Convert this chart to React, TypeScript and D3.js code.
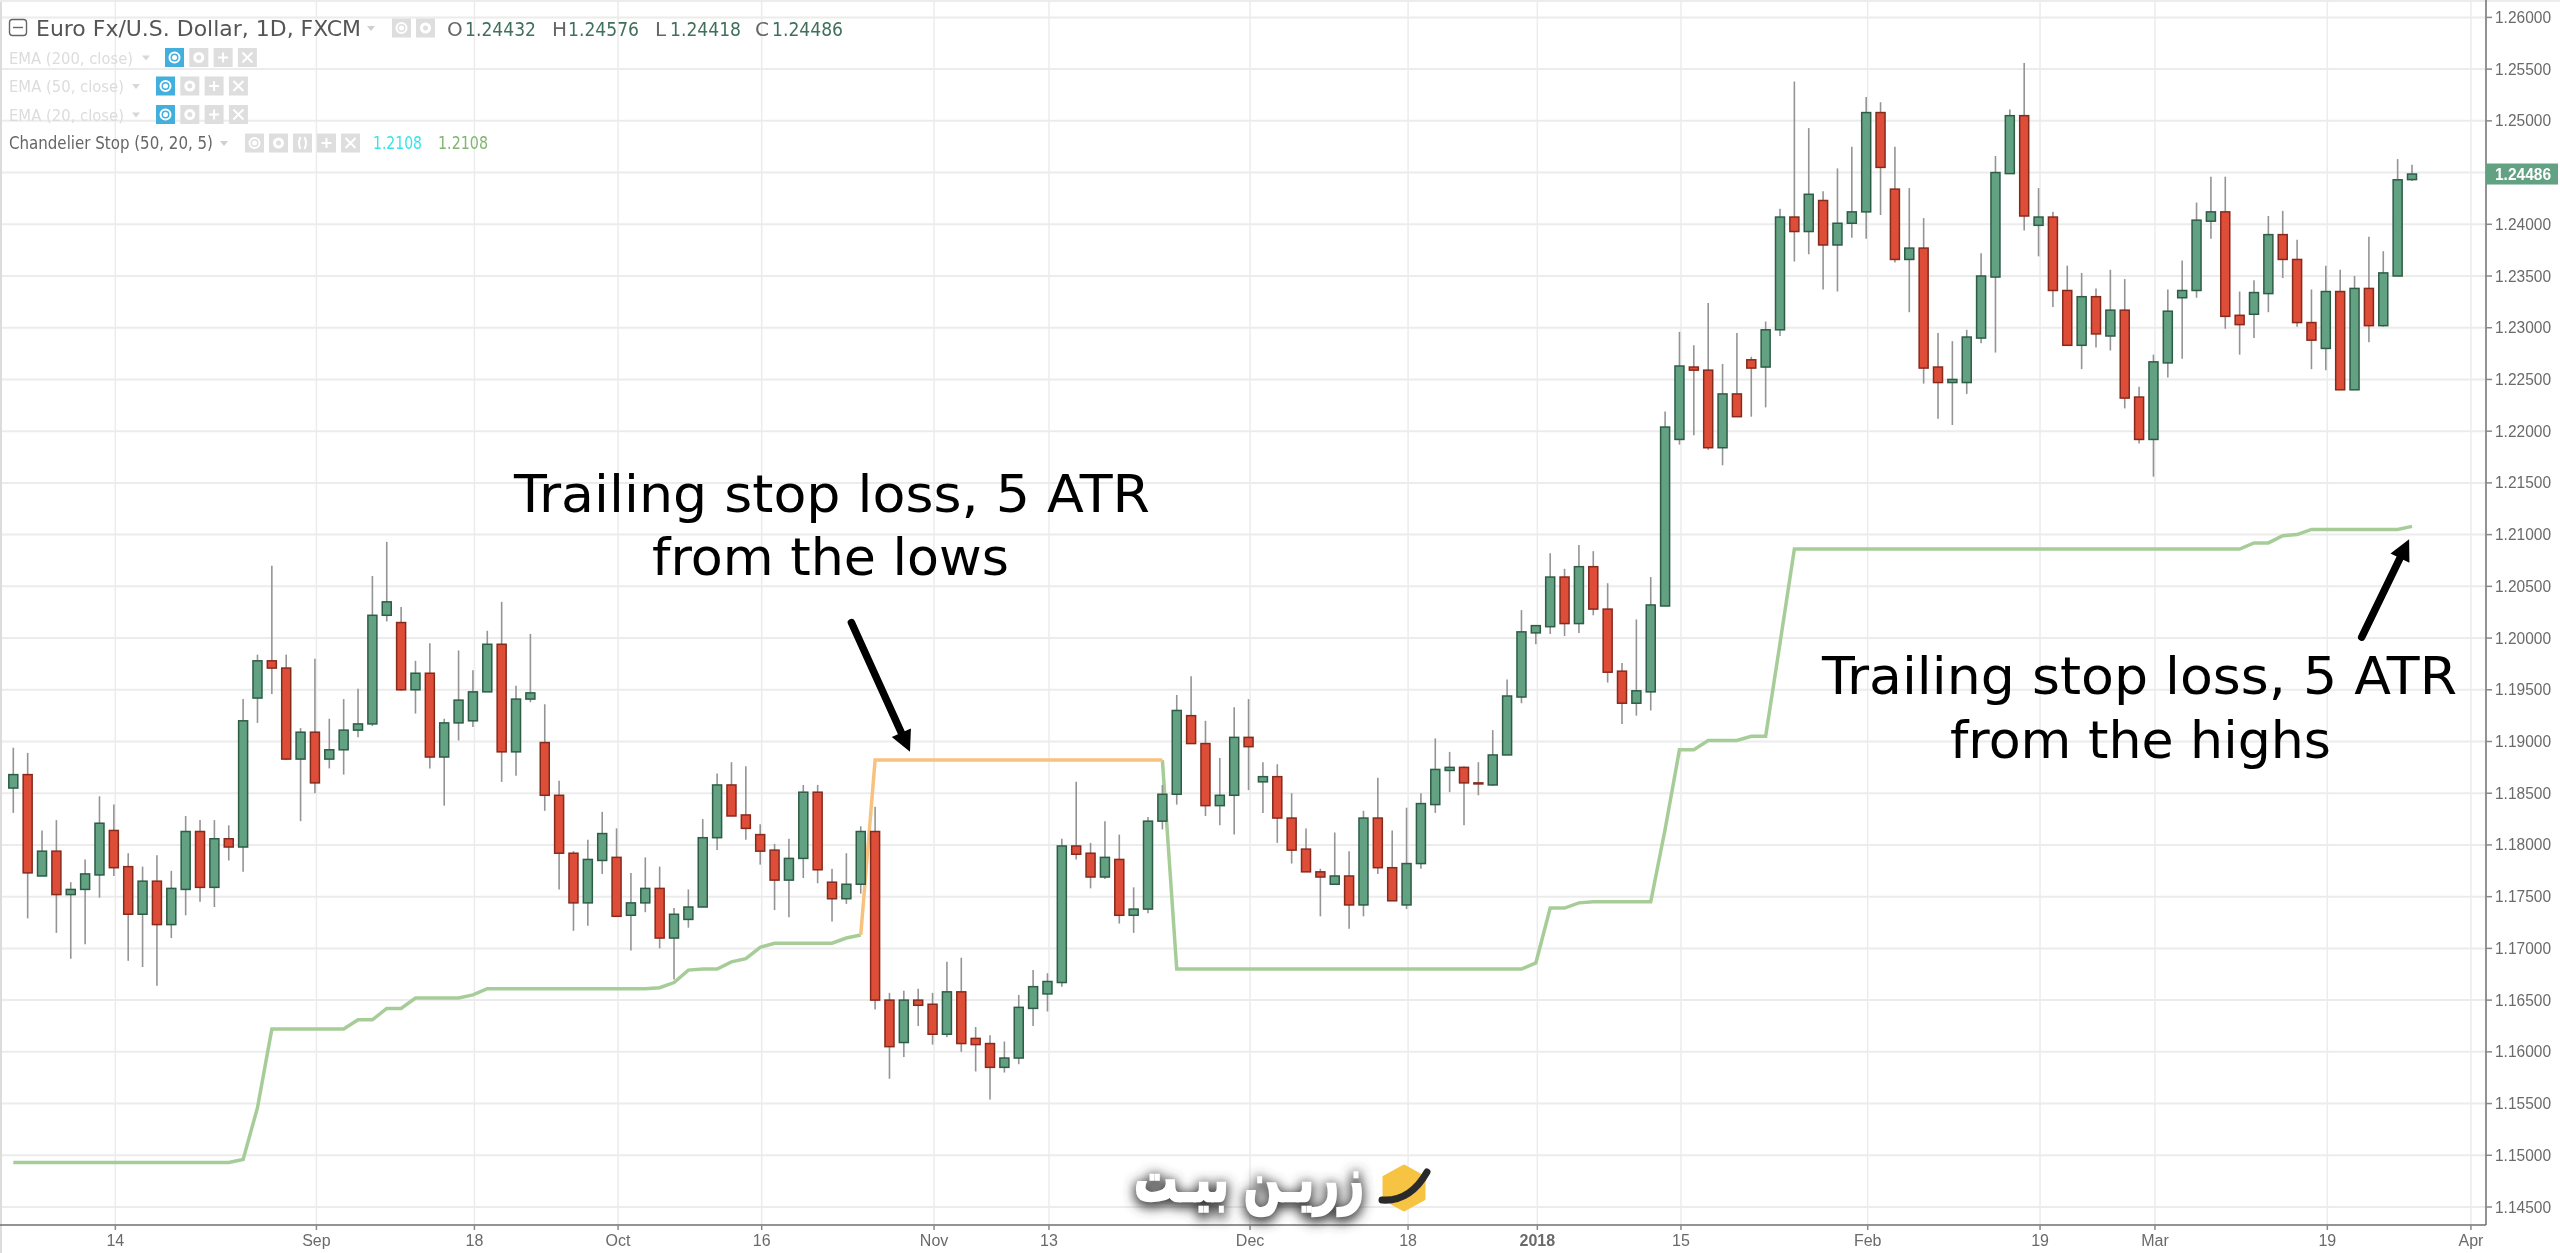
import { line, range, scaleLinear, select } from 'd3';
import React, { useEffect, useRef } from 'react';

const WIDTH = 2560;
const HEIGHT = 1253;
const AXIS_X = 2486;
const AXIS_Y = 1225;

const GREEN = '#62a182';
const GREEN_EDGE = '#2e5c47';
const RED = '#dd4e38';
const RED_EDGE = '#862a1e';
const WICK = '#949494';
const STOP_GREEN = '#a6cd97';
const STOP_ORANGE = '#f8c27e';
const GRID = '#ececec';
const TEXT = '#6a6a6a';
const ICON = '#dedede';

const opens = [
  1.1855, 1.1868, 1.177, 1.1794, 1.1752, 1.1757, 1.1771, 1.1814, 1.1779, 1.1733, 1.1765, 1.1723,
  1.1757, 1.1813, 1.1759, 1.1806, 1.1798, 1.1942, 1.1978, 1.1971, 1.1883, 1.1909, 1.1883, 1.1892,
  1.1911, 1.1917, 1.2022, 1.2015, 1.195, 1.1966, 1.1885, 1.1918, 1.192, 1.1948, 1.1994, 1.189,
  1.1941, 1.1899, 1.1848, 1.1792, 1.1744, 1.1785, 1.1788, 1.1732, 1.1744, 1.1758, 1.171, 1.1728,
  1.174, 1.1807, 1.1858, 1.1829, 1.181, 1.1795, 1.1766, 1.1787, 1.1851, 1.1764, 1.1748, 1.1762,
  1.1813, 1.165, 1.1609, 1.165, 1.1646, 1.1617, 1.1658, 1.1613, 1.1608, 1.1585, 1.1594, 1.1642,
  1.1656, 1.1667, 1.1799, 1.1792, 1.1769, 1.1786, 1.1732, 1.1738, 1.1823, 1.1849, 1.1925, 1.1898,
  1.1838, 1.1848, 1.1904, 1.1861, 1.1866, 1.1826, 1.1796, 1.1774, 1.1762, 1.177, 1.1742, 1.1826,
  1.1778, 1.1742, 1.1782, 1.1839, 1.1872, 1.1875, 1.186, 1.1858, 1.1887, 1.1943, 1.2005, 1.2011,
  1.2059, 1.2014, 1.2069, 1.2028, 1.1968, 1.1937, 1.1948, 1.2031, 1.2192, 1.2262, 1.2259, 1.2184,
  1.2236, 1.2269, 1.2262, 1.2298, 1.2407, 1.2393, 1.2423, 1.238, 1.2401, 1.2412, 1.2508, 1.2434,
  1.2366, 1.2377, 1.2262, 1.2247, 1.2247, 1.229, 1.2349, 1.2449, 1.2505, 1.2399, 1.2407, 1.2336,
  1.2283, 1.233, 1.2292, 1.2317, 1.2233, 1.2192, 1.2266, 1.2329, 1.2336, 1.2403, 1.2412, 1.2312,
  1.2313, 1.2333, 1.239, 1.2366, 1.2305, 1.228, 1.2335, 1.224, 1.2338, 1.2302, 1.235, 1.24432,
];
const closes = [
  1.1868, 1.1773, 1.1794, 1.1752, 1.1757, 1.1772, 1.1821, 1.1778, 1.1733, 1.1765, 1.1723, 1.1758,
  1.1813, 1.1759, 1.1806, 1.1798, 1.192, 1.1978, 1.1971, 1.1883, 1.1909, 1.186, 1.1892, 1.1911,
  1.1917, 1.2022, 1.2035, 1.195, 1.1966, 1.1885, 1.1918, 1.194, 1.1948, 1.1994, 1.189, 1.1941,
  1.1947, 1.1848, 1.1792, 1.1744, 1.1786, 1.1811, 1.1731, 1.1744, 1.1758, 1.171, 1.1733, 1.174,
  1.1807, 1.1858, 1.1828, 1.1816, 1.1794, 1.1766, 1.1787, 1.1851, 1.1776, 1.1748, 1.1762, 1.1813,
  1.165, 1.1605, 1.165, 1.1645, 1.1617, 1.1658, 1.1608, 1.1607, 1.1585, 1.1594, 1.1643, 1.1663,
  1.1668, 1.1799, 1.1791, 1.1769, 1.1788, 1.1732, 1.1738, 1.1823, 1.1849, 1.193, 1.1898, 1.1838,
  1.1848, 1.1904, 1.1895, 1.1866, 1.1826, 1.1795, 1.1774, 1.1769, 1.177, 1.1742, 1.1826, 1.1778,
  1.1746, 1.1782, 1.184, 1.1873, 1.1875, 1.186, 1.1859, 1.1887, 1.1944, 1.2006, 1.2012, 1.2059,
  1.2014, 1.2069, 1.2028, 1.1967, 1.1937, 1.1949, 1.2032, 1.2204, 1.2263, 1.2259, 1.2184, 1.2236,
  1.2214, 1.2261, 1.2298, 1.2407, 1.2393, 1.2429, 1.238, 1.2401, 1.2412, 1.2508, 1.2455, 1.2366,
  1.2377, 1.2261, 1.2247, 1.225, 1.2291, 1.235, 1.245, 1.2505, 1.2408, 1.2407, 1.2336, 1.2283,
  1.233, 1.2294, 1.2317, 1.2232, 1.2192, 1.2267, 1.2316, 1.2336, 1.2404, 1.2412, 1.2311, 1.2303,
  1.2334, 1.239, 1.2366, 1.2305, 1.2288, 1.2335, 1.224, 1.2338, 1.2302, 1.2353, 1.2443, 1.24486,
];
const highs = [
  1.1894, 1.1889, 1.1814, 1.1824, 1.1764, 1.1786, 1.1847, 1.1839, 1.1792, 1.1779, 1.179, 1.1775,
  1.1828, 1.1824, 1.1824, 1.1819, 1.1941, 1.1984, 1.207, 1.1984, 1.1913, 1.198, 1.1922, 1.1941,
  1.1951, 1.206, 1.2093, 1.203, 1.1978, 1.1995, 1.1922, 1.1988, 1.1969, 1.2007, 1.2035, 1.1954,
  1.2004, 1.1936, 1.1862, 1.1794, 1.1805, 1.1832, 1.1816, 1.1773, 1.1788, 1.1779, 1.1739, 1.1757,
  1.1825, 1.1869, 1.188, 1.1876, 1.182, 1.1801, 1.1806, 1.1858, 1.1858, 1.1777, 1.1792, 1.1818,
  1.1837, 1.1657, 1.1659, 1.1661, 1.1657, 1.1687, 1.1691, 1.1624, 1.1616, 1.161, 1.1655, 1.1679,
  1.1676, 1.1806, 1.1861, 1.1802, 1.1823, 1.181, 1.1759, 1.1827, 1.1858, 1.1945, 1.1963, 1.192,
  1.1884, 1.1933, 1.1941, 1.188, 1.1878, 1.185, 1.1816, 1.1777, 1.1812, 1.1794, 1.1833, 1.1865,
  1.1814, 1.1836, 1.185, 1.1903, 1.189, 1.1876, 1.188, 1.1911, 1.196, 1.2027, 1.2012, 1.2082,
  1.2067, 1.209, 1.2084, 1.2053, 1.1976, 1.2018, 1.2059, 1.2219, 1.2296, 1.2283, 1.2324, 1.2265,
  1.2295, 1.2272, 1.2306, 1.2415, 1.2538, 1.2493, 1.2432, 1.2454, 1.2475, 1.2523, 1.2518, 1.2475,
  1.2435, 1.2406, 1.2295, 1.2287, 1.2298, 1.2372, 1.2466, 1.2511, 1.2556, 1.2435, 1.2412, 1.236,
  1.2353, 1.2338, 1.2356, 1.2347, 1.2243, 1.2274, 1.2337, 1.2365, 1.2421, 1.2446, 1.2446, 1.2335,
  1.2346, 1.2408, 1.2413, 1.2385, 1.2337, 1.236, 1.2356, 1.235, 1.2388, 1.2374, 1.2463, 1.24576,
];
const lows = [
  1.1831, 1.1729, 1.177, 1.1715, 1.169, 1.1704, 1.1749, 1.177, 1.1688, 1.1682, 1.1664, 1.171,
  1.1732, 1.1745, 1.174, 1.1785, 1.1774, 1.1918, 1.1946, 1.1882, 1.1823, 1.185, 1.1874, 1.1868,
  1.1904, 1.1915, 1.2016, 1.1949, 1.1927, 1.1874, 1.1838, 1.1901, 1.1914, 1.1948, 1.1861, 1.1867,
  1.1938, 1.1833, 1.1757, 1.1717, 1.1722, 1.1772, 1.1731, 1.1698, 1.1735, 1.17, 1.167, 1.172,
  1.174, 1.1795, 1.1828, 1.1805, 1.1781, 1.1737, 1.173, 1.1768, 1.1763, 1.1726, 1.1743, 1.1753,
  1.1641, 1.1574, 1.1595, 1.1625, 1.1607, 1.1614, 1.16, 1.1581, 1.1554, 1.158, 1.1588, 1.1625,
  1.1639, 1.1663, 1.1786, 1.1758, 1.1767, 1.1724, 1.1715, 1.1734, 1.1815, 1.1839, 1.1898, 1.1828,
  1.1819, 1.181, 1.1853, 1.1831, 1.1802, 1.1782, 1.1774, 1.1731, 1.1762, 1.1719, 1.1731, 1.1772,
  1.1746, 1.1738, 1.1777, 1.1831, 1.1851, 1.1819, 1.1848, 1.1857, 1.1887, 1.1937, 1.1994, 1.2004,
  1.2002, 1.2005, 1.2022, 1.1957, 1.1917, 1.1925, 1.193, 1.2031, 1.2187, 1.2196, 1.2182, 1.2167,
  1.2214, 1.2214, 1.2223, 1.2292, 1.2364, 1.2371, 1.2337, 1.2335, 1.2387, 1.2386, 1.2409, 1.2363,
  1.2315, 1.2246, 1.2212, 1.2206, 1.2236, 1.2285, 1.2276, 1.2449, 1.2394, 1.2369, 1.232, 1.2283,
  1.226, 1.2281, 1.2278, 1.2222, 1.2188, 1.2156, 1.2252, 1.227, 1.2329, 1.2386, 1.2299, 1.2274,
  1.229, 1.2315, 1.2348, 1.2301, 1.226, 1.2259, 1.224, 1.224, 1.2286, 1.2301, 1.235, 1.24418,
];

// Chandelier stop: green while long, orange while short (null where the other one is active)
const longStop = [
  1.1493, 1.1493, 1.1493, 1.1493, 1.1493, 1.1493, 1.1493, 1.1493, 1.1493, 1.1493, 1.1493, 1.1493,
  1.1493, 1.1493, 1.1493, 1.1493, 1.1496, 1.1546, 1.1622, 1.1622, 1.1622, 1.1622, 1.1622, 1.1622,
  1.1631, 1.1631, 1.1642, 1.1642, 1.1652, 1.1652, 1.1652, 1.1652, 1.1655, 1.1661, 1.1661, 1.1661,
  1.1661, 1.1661, 1.1661, 1.1661, 1.1661, 1.1661, 1.1661, 1.1661, 1.1661, 1.1662, 1.1667, 1.1679,
  1.168, 1.168, 1.1687, 1.169, 1.1701, 1.1705, 1.1705, 1.1705, 1.1705, 1.1705, 1.171, 1.1713,
  null, null, null, null, null, null, null, null, null, null, null, null,
  null, null, null, null, null, null, null, null, 1.1882, 1.168, 1.168, 1.168,
  1.168, 1.168, 1.168, 1.168, 1.168, 1.168, 1.168, 1.168, 1.168, 1.168, 1.168, 1.168,
  1.168, 1.168, 1.168, 1.168, 1.168, 1.168, 1.168, 1.168, 1.168, 1.168, 1.1686, 1.1739,
  1.1739, 1.1744, 1.1745, 1.1745, 1.1745, 1.1745, 1.1745, 1.1815, 1.1892, 1.1892, 1.1901, 1.1901,
  1.1901, 1.1905, 1.1905, 1.1995, 1.2086, 1.2086, 1.2086, 1.2086, 1.2086, 1.2086, 1.2086, 1.2086,
  1.2086, 1.2086, 1.2086, 1.2086, 1.2086, 1.2086, 1.2086, 1.2086, 1.2086, 1.2086, 1.2086, 1.2086,
  1.2086, 1.2086, 1.2086, 1.2086, 1.2086, 1.2086, 1.2086, 1.2086, 1.2086, 1.2086, 1.2086, 1.2086,
  1.2092, 1.2092, 1.2099, 1.21, 1.2105, 1.2105, 1.2105, 1.2105, 1.2105, 1.2105, 1.2105, 1.2108,
];
const shortStop = [
  null, null, null, null, null, null, null, null, null, null, null, null,
  null, null, null, null, null, null, null, null, null, null, null, null,
  null, null, null, null, null, null, null, null, null, null, null, null,
  null, null, null, null, null, null, null, null, null, null, null, null,
  null, null, null, null, null, null, null, null, null, null, null, 1.1713,
  1.1882, 1.1882, 1.1882, 1.1882, 1.1882, 1.1882, 1.1882, 1.1882, 1.1882, 1.1882, 1.1882, 1.1882,
  1.1882, 1.1882, 1.1882, 1.1882, 1.1882, 1.1882, 1.1882, 1.1882, 1.1882,
];
const stopLabel = '1.2108';

const priceTicks = [
  1.145, 1.15, 1.155, 1.16, 1.165, 1.17, 1.175, 1.18, 1.185, 1.19, 1.195, 1.2, 1.205, 1.21, 1.215,
  1.22, 1.225, 1.23, 1.235, 1.24, 1.245, 1.25, 1.255, 1.26,
];
const dateTickBars = [7, 21, 32, 42, 52, 64, 72, 86, 97, 106, 116, 129, 141, 149, 161, 171];
const dateTickLabels = ['14', 'Sep', '18', 'Oct', '16', 'Nov', '13', 'Dec', '18', '2018', '15', 'Feb', '19', 'Mar', '19', 'Apr'];

const ohlcLabels = ['O', 'H', 'L', 'C'];
const ohlcValues = ['1.24432', '1.24576', '1.24418', '1.24486'];
const ohlcLetterX = [447, 552, 655, 755];
const ohlcValueX = [465, 568, 670, 772];

const emaNames = ['EMA (200, close)', 'EMA (50, close)', 'EMA (20, close)'];

const App = (): JSX.Element => {
  const ref = useRef<SVGSVGElement>(null);

  useEffect(() => {
    if (ref.current === null) return;

    // Clear the current SVG before re-drawing
    ref.current.replaceChildren();

    const x = scaleLinear().domain([0, 167]).range([13.3, 2412]);
    const y = scaleLinear().domain([1.145, 1.26]).range([1207, 17.4]);

    const page = select(ref.current).attr('width', WIDTH).attr('height', HEIGHT).attr('viewBox', [0, 0, WIDTH, HEIGHT]);

    const defs = page.append('defs');
    defs
      .append('filter')
      .attr('id', 'soft')
      .attr('x', '-15%')
      .attr('y', '-50%')
      .attr('width', '130%')
      .attr('height', '200%')
      .append('feGaussianBlur')
      .attr('stdDeviation', 6);
    // The source is a video frame, everything in it is a little soft
    defs
      .append('filter')
      .attr('id', 'frame')
      .attr('filterUnits', 'userSpaceOnUse')
      .attr('x', 0)
      .attr('y', 0)
      .attr('width', WIDTH)
      .attr('height', HEIGHT)
      .append('feGaussianBlur')
      .attr('stdDeviation', 0.5);

    const svg = page.append('g').attr('filter', 'url(#frame)');
    svg.append('rect').attr('width', WIDTH).attr('height', HEIGHT).attr('fill', '#fff');

    // Grid
    const grid = svg.append('g').attr('stroke', GRID);
    grid
      .selectAll('line.h')
      .data(priceTicks)
      .join('line')
      .attr('class', 'h')
      .attr('x1', 0)
      .attr('x2', AXIS_X)
      .attr('y1', (d) => y(d))
      .attr('y2', (d) => y(d))
      .attr('stroke-width', 2);
    grid
      .selectAll('line.v')
      .data(dateTickBars)
      .join('line')
      .attr('class', 'v')
      .attr('x1', (d) => x(d) + 1.5)
      .attr('x2', (d) => x(d) + 1.5)
      .attr('y1', 0)
      .attr('y2', AXIS_Y)
      .attr('stroke-width', 1.5);
    svg.append('line').attr('x1', 1).attr('x2', 1).attr('y1', 0).attr('y2', HEIGHT).attr('stroke', '#dcdcdc').attr('stroke-width', 2);
    svg.append('line').attr('x1', 0).attr('x2', WIDTH).attr('y1', 1).attr('y2', 1).attr('stroke', GRID).attr('stroke-width', 2);

    // Stop lines sit under the candles
    const stopLine = line<number | null>()
      .defined((d) => d !== null)
      .x((_, i) => x(i))
      .y((d) => y(d as number));
    svg
      .append('path')
      .attr('d', stopLine(longStop))
      .attr('fill', 'none')
      .attr('stroke', STOP_GREEN)
      .attr('stroke-width', 3.5);
    svg
      .append('path')
      .attr('d', stopLine(shortStop))
      .attr('fill', 'none')
      .attr('stroke', STOP_ORANGE)
      .attr('stroke-width', 3.5);

    // Candles
    const bars = range(opens.length);
    svg
      .append('g')
      .attr('stroke', WICK)
      .attr('stroke-width', 1.6)
      .selectAll()
      .data(bars)
      .join('line')
      .attr('x1', (i) => x(i))
      .attr('x2', (i) => x(i))
      .attr('y1', (i) => y(highs[i]))
      .attr('y2', (i) => y(lows[i]));
    svg
      .append('g')
      .attr('stroke-width', 1.5)
      .selectAll()
      .data(bars)
      .join('rect')
      .attr('x', (i) => x(i) - 4.5)
      .attr('width', 9)
      .attr('y', (i) => y(Math.max(opens[i], closes[i])))
      .attr('height', (i) => Math.abs(y(opens[i]) - y(closes[i])))
      .attr('fill', (i) => (closes[i] >= opens[i] ? GREEN : RED))
      .attr('stroke', (i) => (closes[i] >= opens[i] ? GREEN_EDGE : RED_EDGE));

    // Price axis
    const priceAxis = svg.append('g');
    priceAxis.append('line').attr('x1', AXIS_X).attr('x2', AXIS_X).attr('y1', 0).attr('y2', AXIS_Y).attr('stroke', '#6f6f6f').attr('stroke-width', 1.5);
    priceAxis
      .selectAll('line.tick')
      .data(priceTicks)
      .join('line')
      .attr('class', 'tick')
      .attr('x1', AXIS_X)
      .attr('x2', AXIS_X + 6)
      .attr('y1', (d) => y(d))
      .attr('y2', (d) => y(d))
      .attr('stroke', '#8a8a8a')
      .attr('stroke-width', 1.5);
    priceAxis
      .selectAll('text')
      .data(priceTicks)
      .join('text')
      .attr('x', 2495)
      .attr('y', (d) => y(d) + 5.5)
      .attr('textLength', 56)
      .attr('lengthAdjust', 'spacingAndGlyphs')
      .attr('font-family', 'Liberation Sans')
      .attr('font-size', 16)
      .attr('fill', TEXT)
      .text((d) => d.toFixed(5));
    const last = closes[closes.length - 1];
    priceAxis.append('rect').attr('x', AXIS_X).attr('y', y(last) - 10.5).attr('width', 72).attr('height', 21).attr('fill', GREEN);
    priceAxis
      .append('text')
      .attr('x', 2495)
      .attr('y', y(last) + 5.5)
      .attr('textLength', 56)
      .attr('lengthAdjust', 'spacingAndGlyphs')
      .attr('font-family', 'Liberation Sans')
      .attr('font-size', 16)
      .attr('font-weight', 'bold')
      .attr('fill', '#fff')
      .text(last.toFixed(5));

    // Date axis
    const dateAxis = svg.append('g');
    dateAxis.append('line').attr('x1', 0).attr('x2', AXIS_X).attr('y1', AXIS_Y).attr('y2', AXIS_Y).attr('stroke', '#6f6f6f').attr('stroke-width', 1.5);
    dateAxis
      .selectAll('line.tick')
      .data(dateTickBars)
      .join('line')
      .attr('class', 'tick')
      .attr('x1', (d) => x(d) + 1.5)
      .attr('x2', (d) => x(d) + 1.5)
      .attr('y1', AXIS_Y)
      .attr('y2', AXIS_Y + 5)
      .attr('stroke', '#8a8a8a')
      .attr('stroke-width', 1.5);
    dateAxis
      .selectAll('text')
      .data(dateTickBars)
      .join('text')
      .attr('x', (d) => x(d) + 1.5)
      .attr('y', AXIS_Y + 21)
      .attr('text-anchor', 'middle')
      .attr('font-family', 'Liberation Sans')
      .attr('font-size', 16)
      .attr('font-weight', (_, i) => (dateTickLabels[i] === '2018' ? 'bold' : 'normal'))
      .attr('fill', TEXT)
      .text((_, i) => dateTickLabels[i]);

    // Legend block, top left
    const legend = svg.append('g').attr('font-family', 'DejaVu Sans');
    const caret = (cx: number, cy: number, color: string) =>
      legend.append('path').attr('d', `M${cx - 4},${cy - 2}L${cx + 4},${cy - 2}L${cx},${cy + 3}Z`).attr('fill', color);
    const iconBox = (bx: number, cy: number, fill: string, glyph: string) => {
      legend.append('rect').attr('x', bx).attr('y', cy - 9.5).attr('width', 19).attr('height', 19).attr('fill', fill);
      const g = legend.append('g').attr('fill', 'none').attr('stroke', '#fff').attr('stroke-width', 2).attr('transform', `translate(${bx + 9.5},${cy})`);
      if (glyph === 'eye') {
        g.append('circle').attr('r', 5);
        g.append('circle').attr('r', 1.5).attr('fill', '#fff');
      }
      if (glyph === 'gear') g.append('circle').attr('r', 4).attr('stroke-width', 3);
      if (glyph === 'plus') g.append('path').attr('d', 'M-5,0H5M0,-5V5');
      if (glyph === 'close') g.append('path').attr('d', 'M-5,-5L5,5M5,-5L-5,5');
      if (glyph === 'brackets') g.append('path').attr('d', 'M-2,-6Q-5,0 -2,6M2,-6Q5,0 2,6');
    };

    legend.append('rect').attr('x', 9.5).attr('y', 19.5).attr('width', 17).attr('height', 16).attr('rx', 3).attr('fill', 'none').attr('stroke', '#666').attr('stroke-width', 1.4);
    legend.append('line').attr('x1', 13).attr('x2', 23).attr('y1', 27.5).attr('y2', 27.5).attr('stroke', '#666').attr('stroke-width', 1.4);
    legend
      .append('text')
      .attr('x', 36)
      .attr('y', 36)
      .attr('font-size', 21)
      .attr('textLength', 325)
      .attr('lengthAdjust', 'spacingAndGlyphs')
      .attr('fill', '#555')
      .text('Euro Fx/U.S. Dollar, 1D, FXCM');
    caret(371, 28, '#cfcfcf');
    iconBox(392, 28, ICON, 'eye');
    iconBox(416, 28, ICON, 'gear');
    ohlcLabels.forEach((label, i) => {
      legend.append('text').attr('x', ohlcLetterX[i]).attr('y', 36).attr('font-size', 20).attr('fill', '#666').text(label);
      legend.append('text').attr('x', ohlcValueX[i]).attr('y', 36).attr('font-size', 20).attr('textLength', 71).attr('lengthAdjust', 'spacingAndGlyphs').attr('fill', '#41705c').text(ohlcValues[i]);
    });

    const emaTextWidth = [124, 115, 115];
    const emaCaretX = [146, 136, 136];
    const emaFirstIcon = [165, 156, 156];
    emaNames.forEach((name, i) => {
      const cy = 57.5 + i * 28.5;
      legend.append('text').attr('x', 9).attr('y', cy + 6).attr('font-size', 16.5).attr('textLength', emaTextWidth[i]).attr('lengthAdjust', 'spacingAndGlyphs').attr('fill', '#dcdcdc').text(name);
      caret(emaCaretX[i], cy, '#d8d8d8');
      iconBox(emaFirstIcon[i], cy, '#42afdc', 'eye');
      iconBox(emaFirstIcon[i] + 24.3, cy, ICON, 'gear');
      iconBox(emaFirstIcon[i] + 48.6, cy, ICON, 'plus');
      iconBox(emaFirstIcon[i] + 72.9, cy, ICON, 'close');
    });

    legend.append('text').attr('x', 9).attr('y', 149).attr('font-size', 17).attr('textLength', 204).attr('lengthAdjust', 'spacingAndGlyphs').attr('fill', '#666').text('Chandelier Stop (50, 20, 5)');
    caret(224, 143, '#d0d0d0');
    iconBox(245, 143, ICON, 'eye');
    iconBox(269, 143, ICON, 'gear');
    iconBox(293, 143, ICON, 'brackets');
    iconBox(317, 143, ICON, 'plus');
    iconBox(341, 143, ICON, 'close');
    legend.append('text').attr('x', 373).attr('y', 149).attr('font-size', 17).attr('textLength', 49).attr('lengthAdjust', 'spacingAndGlyphs').attr('fill', '#38e3ea').text(stopLabel);
    legend.append('text').attr('x', 438).attr('y', 149).attr('font-size', 17).attr('textLength', 50).attr('lengthAdjust', 'spacingAndGlyphs').attr('fill', '#82b56e').text(stopLabel);

    // Annotations, narrower than plain DejaVu so it is squeezed to the measured widths
    const notes = svg.append('g').attr('font-family', 'DejaVu Sans').attr('font-size', 52).attr('fill', '#000');
    const note = (tx: number, ty: number, w: number, s: string) =>
      notes.append('text').attr('x', tx).attr('y', ty).attr('textLength', w).attr('lengthAdjust', 'spacingAndGlyphs').text(s);
    note(514, 512, 636, 'Trailing stop loss, 5 ATR');
    note(652, 575, 357, 'from the lows');
    note(1822, 694, 635, 'Trailing stop loss, 5 ATR');
    note(1950, 758, 381, 'from the highs');

    const arrow = (fromBar: number, fromPrice: number, toBar: number, toPrice: number) => {
      const x0 = x(fromBar);
      const y0 = y(fromPrice);
      const x1 = x(toBar);
      const y1 = y(toPrice);
      const len = Math.hypot(x1 - x0, y1 - y0);
      const ux = (x1 - x0) / len;
      const uy = (y1 - y0) / len;
      const bx = x1 - ux * 21;
      const by = y1 - uy * 21;
      svg.append('line').attr('x1', x0).attr('y1', y0).attr('x2', bx).attr('y2', by).attr('stroke', '#000').attr('stroke-width', 7.5).attr('stroke-linecap', 'round');
      svg
        .append('path')
        .attr('d', `M${x1},${y1}L${bx - uy * 10.5},${by + ux * 10.5}L${bx + uy * 10.5},${by - ux * 10.5}Z`)
        .attr('fill', '#000');
    };
    arrow(58.35, 1.2015, 62.43, 1.189);
    arrow(163.5, 1.2001, 166.8, 1.20955);

    // Watermark
    const mark = svg.append('g');
    const brand = 'زریـن بیـت';
    const brandText = (fill: string, width: number, dy: number) =>
      mark
        .append('text')
        .attr('x', 1134)
        .attr('y', 1201 + dy)
        .attr('font-family', 'DejaVu Sans')
        .attr('font-weight', 'bold')
        .attr('font-size', 62)
        .attr('direction', 'rtl')
        .attr('text-anchor', 'end')
        .attr('textLength', 230)
        .attr('lengthAdjust', 'spacingAndGlyphs')
        .attr('fill', fill)
        .attr('stroke', fill)
        .attr('stroke-width', width)
        .text(brand);
    brandText('#3c3c3c', 8, 3).attr('filter', 'url(#soft)');
    brandText('#fff', 2.5, 0);
    mark
      .append('path')
      .attr('d', 'M1404,1166L1424,1177L1424,1199L1404,1210L1384,1199L1384,1177Z')
      .attr('fill', '#f6c443')
      .attr('stroke', '#f6c443')
      .attr('stroke-width', 3)
      .attr('stroke-linejoin', 'round');
    mark
      .append('path')
      .attr('d', 'M1382,1200Q1410,1202 1427,1172')
      .attr('fill', 'none')
      .attr('stroke', '#2c2c2c')
      .attr('stroke-width', 7)
      .attr('stroke-linecap', 'round');
  }, []);

  return <svg ref={ref} style={{ position: 'absolute', left: 0, top: 0 }} />;
};

export default App;
